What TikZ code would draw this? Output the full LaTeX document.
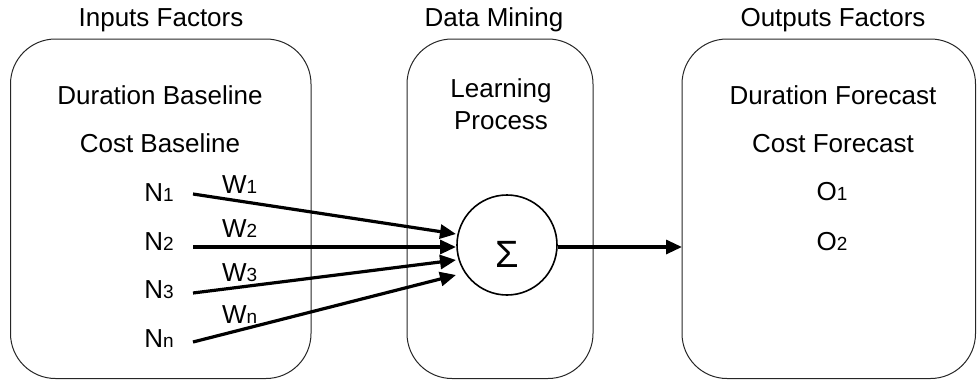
\documentclass[tikz,border=0pt]{standalone}
\usepackage{fontspec}
\setmainfont{Liberation Sans}
\usetikzlibrary{arrows.meta}
\tikzset{
  lbl/.style={anchor=base, inner sep=0pt, font=\fontsize{26}{30}\selectfont},
  panel/.style={draw=black!85, line width=1pt, rounded corners=45pt},
  weight/.style={-{Triangle[length=16pt,width=14pt]}, line width=3.2pt}
}
\newcommand{\sub}[1]{{\fontsize{19}{22}\selectfont #1}}
\begin{document}
\begin{tikzpicture}[x=1pt,y=-1pt]
    \useasboundingbox (0,0) rectangle (977,381);

    % three panels
    \draw[panel] (10.5,39) rectangle (311,378.5);
    \draw[panel] (407,39) rectangle (593,378.5);
    \draw[panel] (682,39) rectangle (975.5,378.5);

    % titles
    \node[lbl] (tin)  at (161,26) {Inputs Factors};
    \node[lbl] (tdm)  at (494,26) {Data Mining};
    \node[lbl] (tout) at (833,26) {Outputs Factors};

    % inputs
    \node[lbl] (dbase) at (160,104) {Duration Baseline};
    \node[lbl] (cbase) at (160,152) {Cost Baseline};
    \node[lbl] (n1) at (159,201) {N\sub{1}};
    \node[lbl] (n2) at (159,250) {N\sub{2}};
    \node[lbl] (n3) at (159,298) {N\sub{3}};
    \node[lbl] (nn) at (159,347) {N\sub{n}};

    % learning
    \node[lbl] (learn) at (501,97)  {Learning};
    \node[lbl] (proc)  at (501,129) {Process};
    \node[draw, circle, line width=1.6pt, minimum size=100pt, inner sep=0pt]
        (sum) at (507,245) {};
    \node[lbl, font=\fontsize{38}{40}\selectfont] (sigma) at (507,267) {Σ};

    % outputs
    \node[lbl] (dfc) at (833,104) {Duration Forecast};
    \node[lbl] (cfc) at (833,152) {Cost Forecast};
    \node[lbl] (o1)  at (832,200) {O\sub{1}};
    \node[lbl] (o2)  at (832,250) {O\sub{2}};

    % weighted links
    \coordinate (s1) at (193,194);
    \coordinate (s2) at (193,247);
    \coordinate (s3) at (193,293);
    \coordinate (sn) at (193,342);
    \coordinate (e1) at (456,234);
    \coordinate (e2) at (456,247);
    \coordinate (e3) at (456,260);
    \coordinate (en) at (456,275);
    \draw[weight] (s1) -- (e1);
    \draw[weight] (s2) -- (e2);
    \draw[weight] (s3) -- (e3);
    \draw[weight] (sn) -- (en);

    \node[lbl, anchor=base west] (w1) at (222,193) {W\sub{1}};
    \node[lbl, anchor=base west] (w2) at (222,237) {W\sub{2}};
    \node[lbl, anchor=base west] (w3) at (222,281) {W\sub{3}};
    \node[lbl, anchor=base west] (wn) at (222,323) {W\sub{n}};

    % to output panel
    \coordinate (oin) at (682,247);
    \draw[weight] (sum.east |- oin) -- (oin);
\end{tikzpicture}
\end{document}
